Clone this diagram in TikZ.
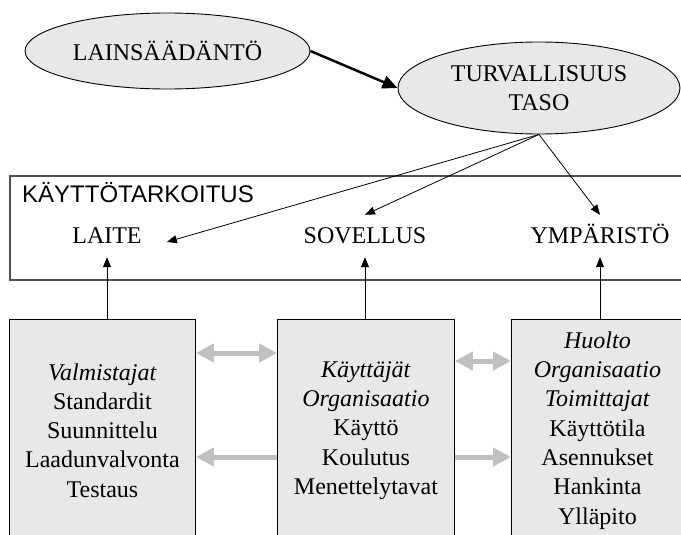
\documentclass[tikz,border=0pt]{standalone}
\usepackage{fontspec}
\setmainfont{Liberation Serif}
\setsansfont{Liberation Sans}
\usetikzlibrary{shapes.geometric,arrows.meta}
\definecolor{shade}{HTML}{E8E8E8}
\definecolor{linkgray}{HTML}{C0C0C0}
\definecolor{framegray}{HTML}{505050}
\newcommand{\bodyfont}{\fontsize{24}{29.3}\selectfont}

\begin{document}
\begin{tikzpicture}[x=1pt,y=-1pt,
  every node/.style={font=\bodyfont},
  oval/.style={ellipse,draw=black,line width=0.9pt,fill=shade,inner sep=0pt,align=center},
  item/.style={inner sep=0pt,text height=16pt,text depth=0pt,anchor=base},
  actor/.style={draw=black,line width=0.9pt,fill=shade,anchor=north west,align=center,
                minimum height=222pt,inner sep=0pt},
  frame/.style={draw=framegray,line width=2pt,anchor=north west,inner sep=0pt},
  bold arrow/.style={line width=2.5pt,-{Triangle[length=15pt,width=13pt]}},
  thin arrow/.style={line width=0.8pt,-{Triangle[length=10pt,width=8pt]}},
  link/.style={draw=linkgray,line width=5pt},
  two way/.style={link,{Triangle[length=18pt,width=18pt]}-{Triangle[length=18pt,width=18pt]}},
  one way/.style={link,-{Triangle[length=18pt,width=18pt]}}
]
\clip (0,0) rectangle (681,535);

% legislation and safety level
\node[oval,minimum width=285pt,minimum height=76pt] (law) at (167.5,51) {LAINSÄÄDÄNTÖ};
\node[oval,minimum width=282pt,minimum height=92pt] (safety) at (539,88) {TURVALLISUUS\\TASO};
\draw[bold arrow] (law.east) -- (safety.west);

% intended use frame
\node[frame,minimum width=700pt,minimum height=104pt] (purpose) at (9,175) {};
\node[anchor=base west,inner sep=0pt,font=\sffamily\bodyfont] (purposelabel) at (22,202) {KÄYTTÖTARKOITUS};
\node[item] (device) at (107,243) {LAITE};
\node[item] (application) at (365,243) {SOVELLUS};
\node[item] (environment) at (600,243) {YMPÄRISTÖ};

\draw[thin arrow] (safety.south) -- ([xshift=25pt,yshift=1pt]device.base east);
\draw[thin arrow] (safety.south) -- ([yshift=12pt]application.north);
\draw[thin arrow] (safety.south) -- ([yshift=12pt]environment.north);

% parties
\node[actor,minimum width=186pt] (makers) at (9,319)
  {\textit{Valmistajat}\\Standardit\\Suunnittelu\\Laadunvalvonta\\Testaus};
\node[actor,minimum width=177pt] (users) at (277,319)
  {\textit{Käyttäjät}\\\textit{Organisaatio}\\Käyttö\\Koulutus\\Menettelytavat};
\node[actor,minimum width=172pt] (service) at (511,319)
  {\textit{Huolto}\\\textit{Organisaatio}\\\textit{Toimittajat}\\Käyttötila\\Asennukset\\Hankinta\\Ylläpito};

\draw[thin arrow] (makers.north -| device) -- ([yshift=-14pt]device.south);
\draw[thin arrow] (users.north -| application) -- ([yshift=-14pt]application.south);
\draw[thin arrow] (service.north -| environment) -- ([yshift=-14pt]environment.south);

% links between the parties
\draw[two way] ([yshift=-34pt]makers.north east) -- ([yshift=-34pt]users.north west);
\draw[two way] ([yshift=-42pt]users.north east) -- ([yshift=-42pt]service.north west);
\draw[one way] ([yshift=-138pt]users.north west) -- ([yshift=-138pt]makers.north east);
\draw[one way] ([yshift=-138pt]users.north east) -- ([yshift=-138pt]service.north west);
\end{tikzpicture}
\end{document}
